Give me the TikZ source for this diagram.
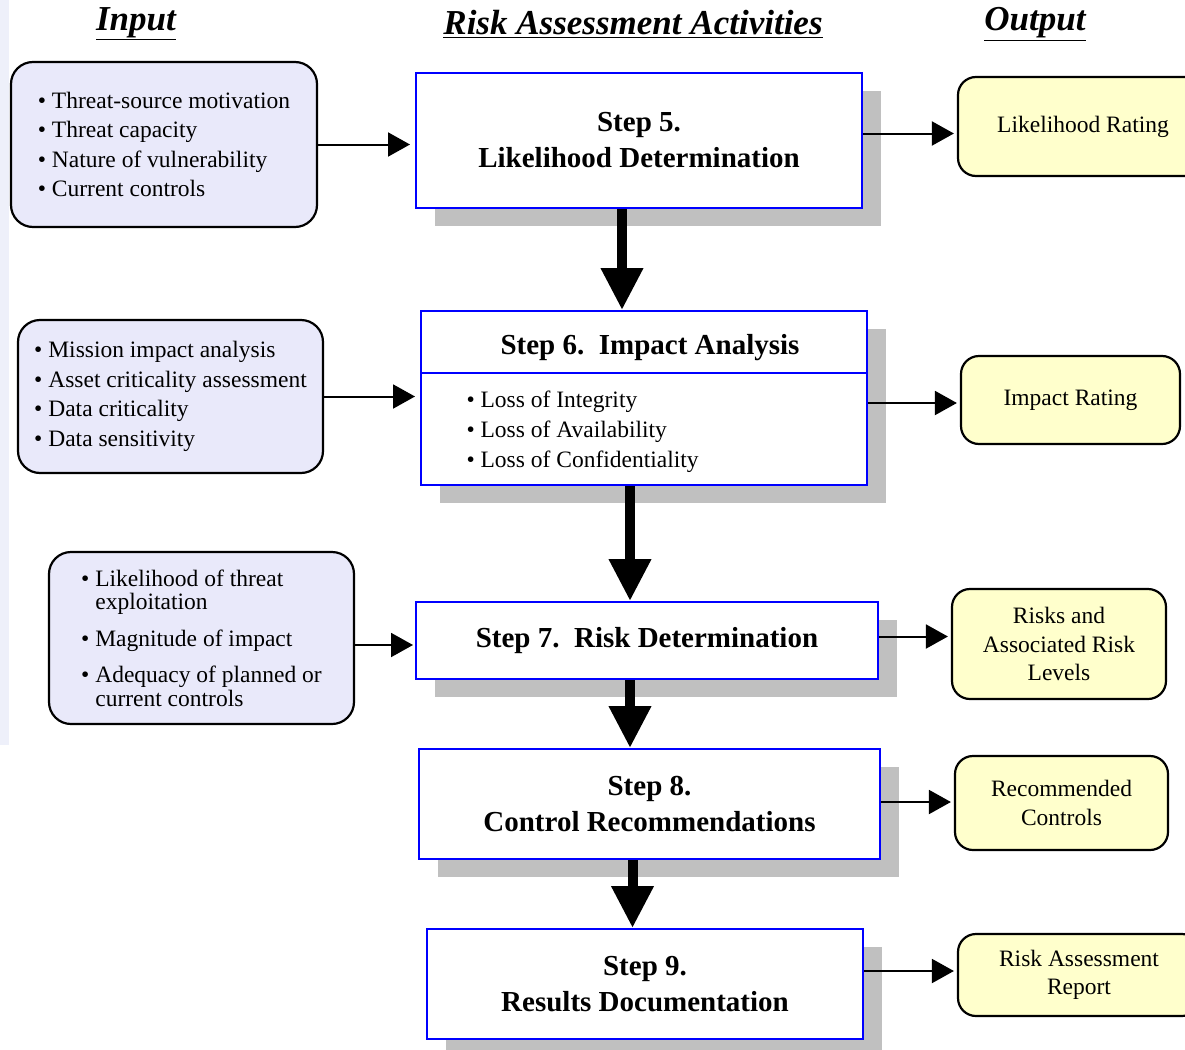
\documentclass[tikz,border=0pt]{standalone}
\usepackage{fontspec}
\setmainfont{Liberation Serif}
\usepackage{xcolor}
\definecolor{InLilac}{HTML}{E9E9FA}
\definecolor{OutCream}{HTML}{FFFFCC}
\definecolor{StepBlue}{HTML}{0000FF}
\definecolor{ShadowGray}{HTML}{C0C0C0}
\definecolor{EdgeTint}{HTML}{EEF0FA}
\usepackage{tikz}
\usetikzlibrary{arrows.meta,positioning,shadows}

\begin{document}
\begin{tikzpicture}[x=1pt,y=-1pt,>=Latex,
stepbox/.style={draw=StepBlue,line width=2pt,fill=white,align=center,font=\fontsize{29}{36}\selectfont\bfseries,
  drop shadow={shadow xshift=19pt,shadow yshift=-18pt,fill=ShadowGray,opacity=1}},
inbox/.style={draw,line width=2.2pt,rounded corners=22pt,fill=InLilac,align=left,font=\fontsize{23.5}{29.5}\selectfont},
outbox/.style={draw,line width=2.2pt,rounded corners=18pt,fill=OutCream,align=center,font=\fontsize{23.5}{28.5}\selectfont},
head/.style={font=\fontsize{35}{40}\selectfont\bfseries\itshape},
flow/.style={line width=2pt,-{Triangle[length=22pt,width=24pt]}},
bigflow/.style={line width=10pt,-{Triangle[length=42pt,width=40pt]}}]
\path[use as bounding box,clip] (0,0) rectangle (1185,1049);
\fill[EdgeTint] (0,0) rectangle (9,745);
% column heads
\node[head] (hin) at (136,24) {\underline{Input}};
\node[head] (hact) at (633,24) {\underline{Risk Assessment Activities}};
\node[head] (hout) at (1035,24) {\underline{Output}};
% steps
\node[stepbox,minimum width=446pt,minimum height=135pt] (s5) at (639,140.5) {Step 5.\\Likelihood Determination};
\node[stepbox,minimum width=446pt,minimum height=174pt] (s6) at (644,398) {};
\node[font=\fontsize{29}{36}\selectfont\bfseries] (s6title) at (650,348) {Step 6.\ \ Impact Analysis};
\node[anchor=west,align=left,font=\fontsize{23.5}{30}\selectfont] (s6list) at (463,432)
  {\textbullet\ Loss of Integrity\\\textbullet\ Loss of Availability\\\textbullet\ Loss of Confidentiality};
\node[stepbox,minimum width=462pt,minimum height=77pt] (s7) at (647,640.5) {Step 7.\ \ Risk Determination};
\node[stepbox,minimum width=461pt,minimum height=110pt] (s8) at (649.5,804) {Step 8.\\Control Recommendations};
\node[stepbox,minimum width=436pt,minimum height=110pt] (s9) at (645,984) {Step 9.\\Results Documentation};
\draw[StepBlue,line width=2pt] ([yshift=-63pt]s6.north west) -- ([yshift=-63pt]s6.north east);
% inputs
\node[inbox,minimum width=306pt,minimum height=165pt] (in5) at (164,144.5)
  {\textbullet\ Threat-source motivation\\\textbullet\ Threat capacity\\\textbullet\ Nature of vulnerability\\\textbullet\ Current controls};
\node[inbox,minimum width=305pt,minimum height=153pt] (in6) at (170.5,396.5)
  {\textbullet\ Mission impact analysis\\\textbullet\ Asset criticality assessment\\\textbullet\ Data criticality\\\textbullet\ Data sensitivity};
\node[inbox,minimum width=305pt,minimum height=172pt,font=\fontsize{23.5}{23.5}\selectfont] (in7) at (201.5,638)
  {\textbullet\ Likelihood of threat\\\hphantom{\textbullet\ }exploitation\\[13pt]\textbullet\ Magnitude of impact\\[13pt]%
   \textbullet\ Adequacy of planned or\\\hphantom{\textbullet\ }current controls};
% outputs
\node[outbox,minimum width=250pt,minimum height=99pt] (out5) at (1083,126.5) {Likelihood Rating};
\node[outbox,minimum width=219pt,minimum height=88pt] (out6) at (1070.5,400) {Impact Rating};
\node[outbox,minimum width=214pt,minimum height=110pt] (out7) at (1059,644) {Risks and\\Associated Risk\\Levels};
\node[outbox,minimum width=213pt,minimum height=94pt] (out8) at (1061.5,803) {Recommended\\Controls};
\node[outbox,minimum width=242pt,minimum height=82pt] (out9) at (1079,975) {Risk Assessment\\Report};
% input arrows
\draw[flow,shorten >=5pt] (in5.east) -- (in5.east -| s5.west);
\draw[flow,shorten >=5pt] (in6.east) -- (in6.east -| s6.west);
\draw[flow,shorten >=2pt] ([yshift=-7pt]in7.east) -- ([yshift=-7pt]in7.east -| s7.west);
% output arrows
\draw[flow,shorten >=3pt] ([yshift=7pt]s5.east) -- ([yshift=7pt]s5.east -| out5.west);
\draw[flow,shorten >=3pt] ([yshift=-5pt]s6.east) -- ([yshift=-5pt]s6.east -| out6.west);
\draw[flow,shorten >=3pt] ([yshift=4pt]s7.east) -- ([yshift=4pt]s7.east -| out7.west);
\draw[flow,shorten >=3pt] ([yshift=2pt]s8.east) -- ([yshift=2pt]s8.east -| out8.west);
\draw[flow,shorten >=3pt] ([yshift=13pt]s9.east) -- ([yshift=13pt]s9.east -| out9.west);
% step to step
\draw[bigflow] ([xshift=-17pt]s5.south) -- ([xshift=-17pt]s5.south |- s6.north);
\draw[bigflow] ([xshift=-14pt]s6.south) -- ([xshift=-14pt]s6.south |- s7.north);
\draw[bigflow] ([xshift=-17pt]s7.south) -- ([xshift=-17pt]s7.south |- s8.north);
\draw[bigflow] ([xshift=-17pt]s8.south) -- ([xshift=-17pt]s8.south |- s9.north);
\end{tikzpicture}
\end{document}
